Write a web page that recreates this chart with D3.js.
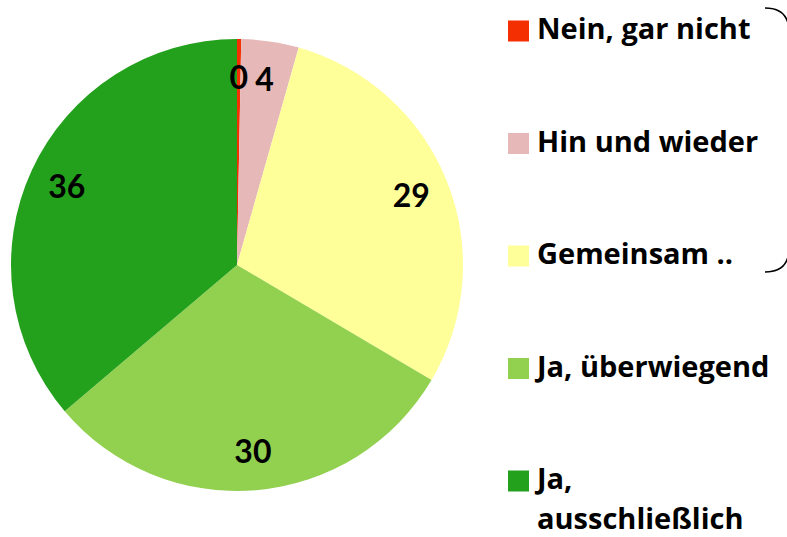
<!DOCTYPE html>
<html>
<head>
<meta charset="utf-8">
<script src="https://cdn.jsdelivr.net/npm/d3@7"></script>
<style>
  body { margin: 0; background: #fff; }
  svg { display: block; }
</style>
</head>
<body>
<div id="pieChart"></div>
<script>
(function(){

const width = 787;
const height = 537;

// data (shares in %)
const categories = ["Nein, gar nicht", "Hin und wieder", "Gemeinsam ..", "Ja, überwiegend", "Ja, ausschließlich"];
const values = [0.3, 4.1, 29.1, 30.3, 36.2];
const legendLines = [["Nein, gar nicht"], ["Hin und wieder"], ["Gemeinsam .."], ["Ja, überwiegend"], ["Ja,", "ausschließlich"]];
const colors = ["#f42f02", "#e6b8b7", "#ffff99", "#92d050", "#23a01c"];

const cx = 237, cy = 265, radius = 226;

const svg = d3.select("#pieChart")
  .append("svg")
  .attr("width", width)
  .attr("height", height);

const color = d3.scaleOrdinal().domain(categories).range(colors);

const pie = d3.pie()
  .sort(null)
  .value(d => d.value);

const arcs = pie(categories.map((c, i) => ({name: c, value: values[i]})));

const arc = d3.arc().innerRadius(0).outerRadius(radius);
const labelArc = d3.arc().innerRadius(radius * 0.83).outerRadius(radius * 0.83);

const g = svg.append("g")
  .attr("transform", `translate(${cx},${cy})`);

// slices
g.selectAll("path")
  .data(arcs)
  .enter()
  .append("path")
  .attr("d", arc)
  .attr("fill", d => color(d.data.name));

// value labels
g.selectAll("text")
  .data(arcs)
  .enter()
  .append("text")
  .attr("transform", d => `translate(${labelArc.centroid(d)})`)
  .attr("text-anchor", "middle")
  .attr("dy", "0.36em")
  .style("font-family", "Lato, sans-serif")
  .style("font-weight", "bold")
  .style("font-size", "32px")
  .style("fill", "#000")
  .text(d => d3.format(".0f")(d.data.value));

// legend
const legend = svg.append("g")
  .attr("transform", "translate(508, 0)");

const rowY = d3.scalePoint()
  .domain(categories)
  .range([31, 481]);

const item = legend.selectAll("g")
  .data(categories)
  .enter()
  .append("g")
  .attr("transform", d => `translate(0,${rowY(d)})`);

item.append("rect")
  .attr("x", 0)
  .attr("y", -10.5)
  .attr("width", 21)
  .attr("height", 21)
  .attr("fill", d => color(d));

item.append("text")
  .attr("x", 29)
  .attr("y", 8)
  .style("font-family", "'Open Sans', sans-serif")
  .style("font-weight", "bold")
  .style("font-size", "29px")
  .style("fill", "#000")
  .selectAll("tspan")
  .data((d, i) => legendLines[i])
  .enter()
  .append("tspan")
  .attr("x", 29)
  .attr("dy", (d, i) => i === 0 ? 0 : 40)
  .text(d => d);

// bracket at the right edge (partly cut off)
svg.append("path")
  .attr("d", "M765,8 Q789,8 789,32 L789,248 Q789,272 765,272")
  .attr("fill", "none")
  .attr("stroke", "#000")
  .attr("stroke-width", 1.5);

})();
</script>
</body>
</html>
